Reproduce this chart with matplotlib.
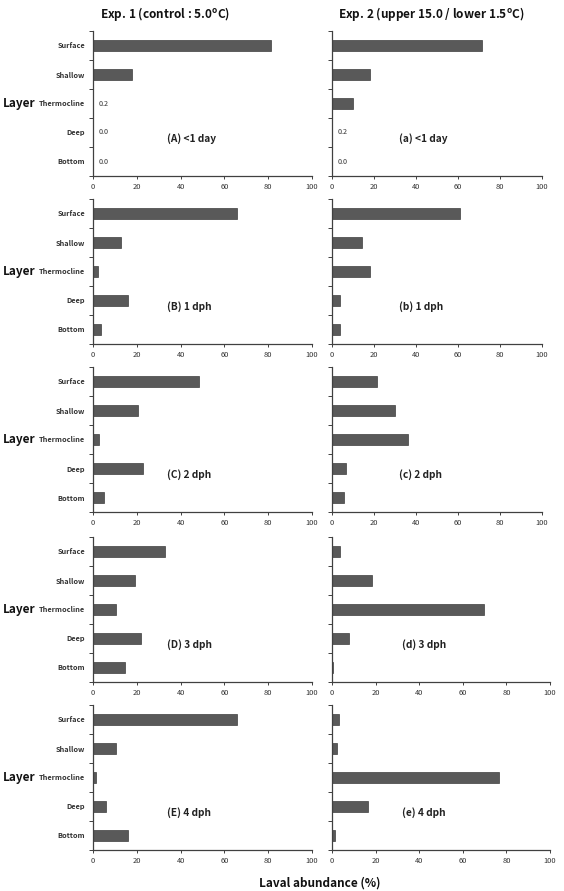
import matplotlib.pyplot as plt
import numpy as np

plt.rcParams['font.family'] = ['Noto Sans CJK KR', 'DejaVu Sans']

layers = ['Surface', 'Shallow', 'Thermocline', 'Deep', 'Bottom']

# Exp. 1 (control)
exp1_lt1 = [81.4, 18.0, 0.2, 0.0, 0.0]
exp1_1dph = [65.7, 12.6, 2.4, 16.0, 3.5]
exp1_2dph = [48.5, 20.7, 2.9, 22.7, 5.2]
exp1_3dph = [32.7, 19.1, 10.4, 21.8, 14.8]
exp1_4dph = [65.9, 10.6, 1.5, 6.1, 15.8]
# Exp. 2 (upper 15.0 / lower 1.5)
exp2_lt1 = [71.5, 18.1, 9.9, 0.2, 0.0]
exp2_1dph = [60.8, 14.4, 17.9, 4.0, 3.7]
exp2_2dph = [21.2, 30.1, 36.1, 6.8, 5.9]
exp2_3dph = [3.8, 18.3, 69.7, 7.8, 0.5]
exp2_4dph = [3.3, 2.3, 76.6, 16.7, 1.5]

exp1_rows = [exp1_lt1, exp1_1dph, exp1_2dph, exp1_3dph, exp1_4dph]
exp2_rows = [exp2_lt1, exp2_1dph, exp2_2dph, exp2_3dph, exp2_4dph]
exp1_tags = ['(A) <1 day', '(B) 1 dph', '(C) 2 dph', '(D) 3 dph', '(E) 4 dph']
exp2_tags = ['(a) <1 day', '(b) 1 dph', '(c) 2 dph', '(d) 3 dph', '(e) 4 dph']

W, H = 564, 891
fig = plt.figure(figsize=(W / 100, H / 100), dpi=100)

tops = [31, 199, 367, 537, 705]
ph = 145
left_x = (93, 312)
right_x = [(332, 542), (332, 542), (332, 542), (332, 550), (332, 550)]

ypos = np.arange(len(layers))[::-1]
bar_col = '#595959'


def panel(rect, vals, tag, show_labels, tag_x, annotate):
    ax = fig.add_axes(rect)
    ax.barh(ypos, vals, height=0.4, color=bar_col, edgecolor='#3f3f3f', linewidth=0.5)
    ax.set_xlim(0, 100)
    ax.set_ylim(-0.5, 4.5)
    for s in ['top', 'right']:
        ax.spines[s].set_visible(False)
    for s in ['left', 'bottom']:
        ax.spines[s].set_color('#404040')
        ax.spines[s].set_linewidth(0.9)
    ax.set_yticks(np.arange(-0.5, 5, 1))
    ax.set_yticklabels([])
    ax.tick_params(axis='y', which='major', length=3, width=0.7, color='#404040')
    ax.set_yticks(ypos, minor=True)
    if show_labels:
        ax.set_yticklabels(layers, minor=True, fontsize=5.3, fontweight='bold', color='#333333')
    else:
        ax.set_yticklabels([], minor=True)
    ax.tick_params(axis='y', which='minor', length=0, pad=5.5)
    ax.set_xticks(np.arange(0, 101, 20))
    ax.tick_params(axis='x', length=2, width=0.7, color='#404040', labelsize=5.4, pad=3,
                   labelcolor='#333333')
    ax.text(tag_x, 0.78, tag, fontsize=7.3, fontweight='bold', color='#222222',
            ha='left', va='center')
    if annotate:
        for y, v in zip(ypos, vals):
            if v < 1:
                ax.text(2.5, y, f'{v:.1f}', fontsize=5.2, color='#333333', ha='left', va='center')
    return ax


for i in range(5):
    b = 1 - (tops[i] + ph) / H
    h = ph / H
    panel([left_x[0] / W, b, (left_x[1] - left_x[0]) / W, h], exp1_rows[i], exp1_tags[i],
          True, 34, i == 0)
    rx = right_x[i]
    panel([rx[0] / W, b, (rx[1] - rx[0]) / W, h], exp2_rows[i], exp2_tags[i],
          False, 32, i == 0)
    fig.text(3 / W, 1 - (tops[i] + ph / 2) / H, 'Layer', fontsize=8.5, fontweight='bold',
             ha='left', va='center', color='#111111')

fig.text(165 / W, 1 - 14 / H, 'Exp. 1 (control : 5.0$^{\\mathregular{o}}$C)', fontsize=8.5,
         fontweight='bold', ha='center', va='center', color='#111111')
fig.text(431 / W, 1 - 14 / H, 'Exp. 2 (upper 15.0 / lower 1.5$^{\\mathregular{o}}$C)',
         fontsize=8.5, fontweight='bold', ha='center', va='center', color='#111111')
fig.text(320 / W, 1 - 883 / H, 'Laval abundance (%)', fontsize=8.5, fontweight='bold',
         ha='center', va='center', color='#111111')

fig.savefig('out.png', dpi=100)
